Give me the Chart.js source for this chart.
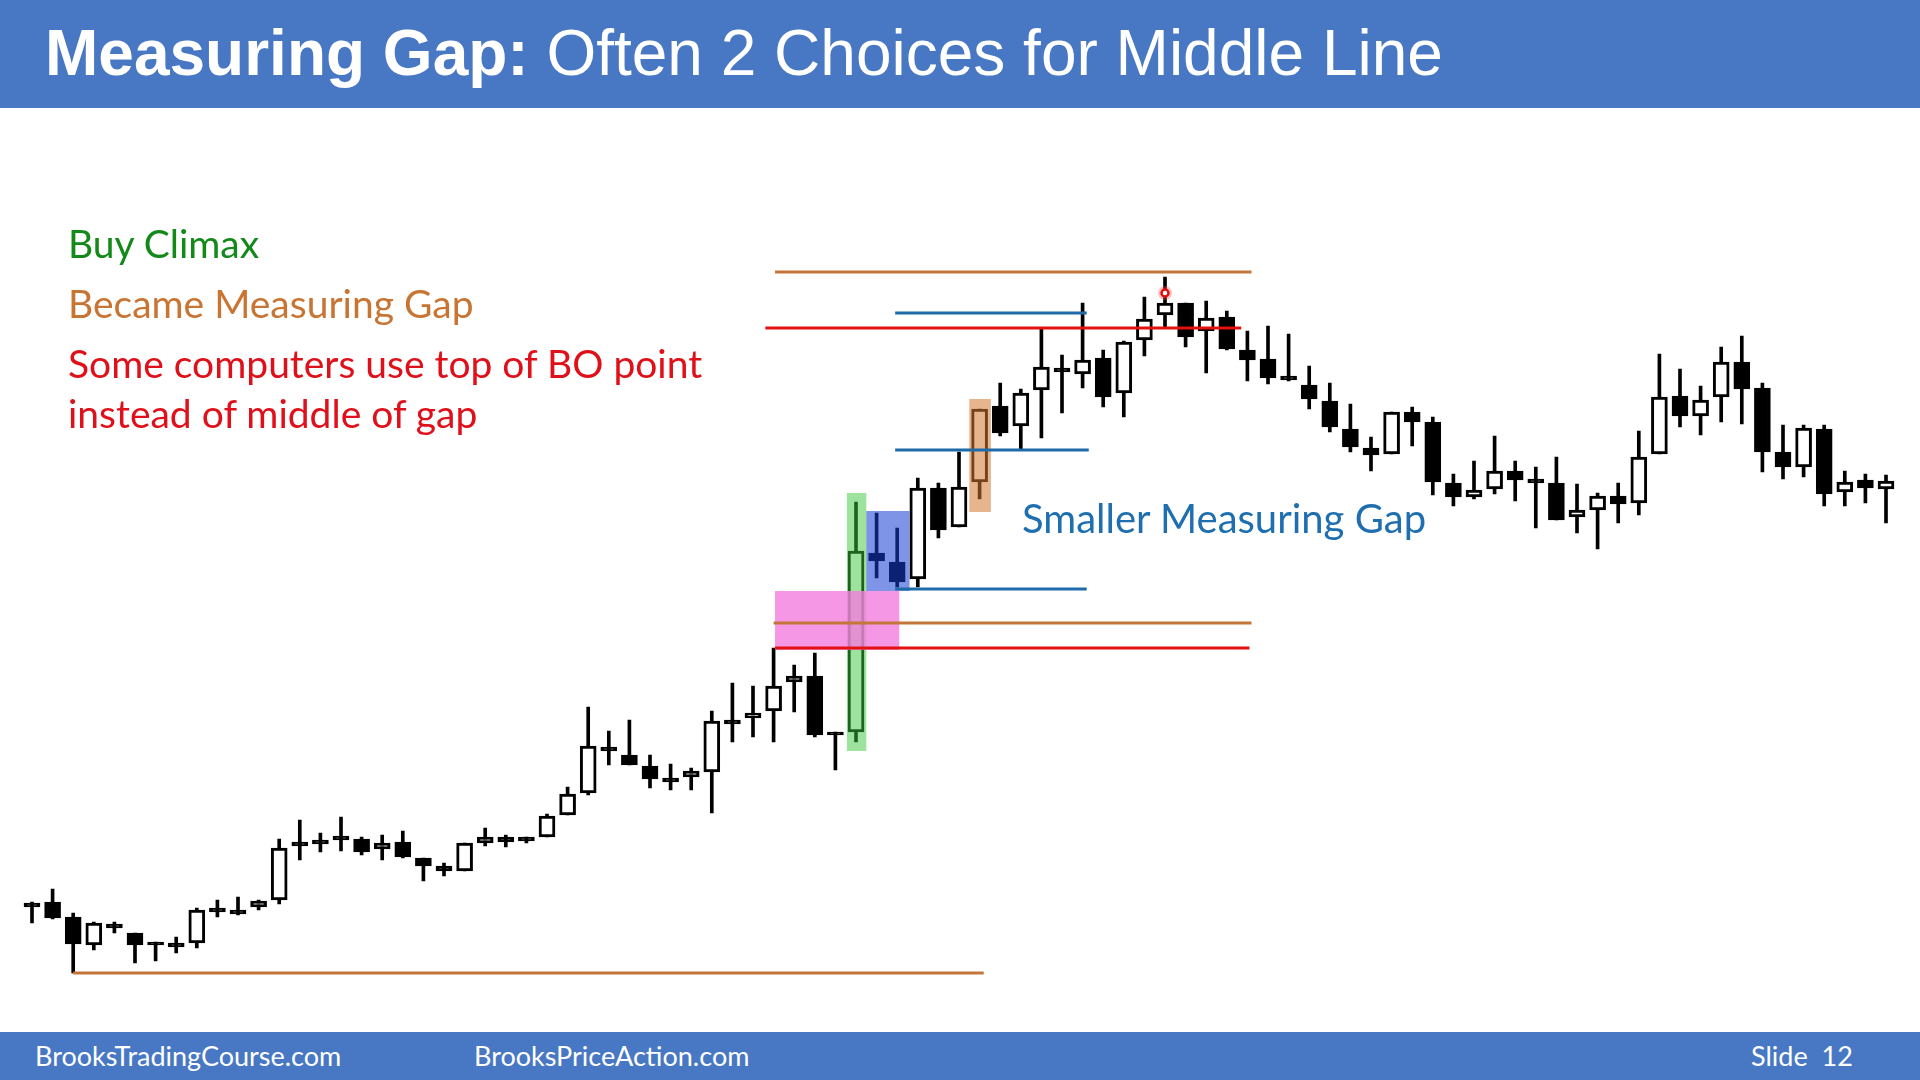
<!DOCTYPE html>
<html>
<head>
<meta charset="utf-8">
<script src="https://cdn.jsdelivr.net/npm/chart.js@4"></script>
<style>
  html, body { margin: 0; padding: 0; background: #fff; }
  #page { position: relative; width: 1920px; height: 1080px; overflow: hidden; }
  #chart { position: absolute; left: 0; top: 0; }
  .bar { position: absolute; left: 0; width: 1920px; background: #4878c4; color: #fff; z-index: 2; }
  #header { top: 0; height: 108px; }
  #header h1 { margin: 0; position: absolute; left: 45px; top: 16px; font: 64px "Liberation Sans", Arial, sans-serif; white-space: nowrap; }
  #footer { top: 1032px; height: 48px; font: 27px Lato, sans-serif; }
  #footer span { position: absolute; top: 7px; white-space: nowrap; }
  .note { position: absolute; font-family: Lato, sans-serif; white-space: nowrap; z-index: 1; font-size: 39px; }
</style>
</head>
<body>
<div id="page">
  <canvas id="chart" width="1920" height="1080"></canvas>
  <div id="header" class="bar"><h1><b>Measuring Gap:</b> Often 2 Choices for Middle Line</h1></div>
  <div class="note" style="left:68px; top:220px; color:#13891a;">Buy Climax</div>
  <div class="note" style="left:68px; top:280px; color:#c87533;">Became Measuring Gap</div>
  <div class="note" style="left:68px; top:340px; color:#e0101a;">Some computers use top of BO point</div>
  <div class="note" style="left:68px; top:390px; color:#e0101a;">instead of middle of gap</div>
  <div class="note" style="left:1022px; top:494px; font-size:40px; color:#1f6fb0;">Smaller Measuring Gap</div>
  <div id="footer" class="bar">
    <span style="left:35px;">BrooksTradingCourse.com</span>
    <span style="left:474px;">BrooksPriceAction.com</span>
    <span style="left:1751px;">Slide &nbsp;12</span>
  </div>
</div>
<script>
// prix, une bougie par barre
const opens  = [97, 98, 83, 55, 76, 67, 58, 57, 57, 92, 90, 93, 100, 158, 160, 164, 161, 151, 158, 142,
  134, 129, 157, 163, 163, 163, 185, 207, 253, 245, 234, 222, 223, 228, 280, 282, 289, 318, 324, 268,
  268, 447, 438, 421, 512, 473, 518, 594, 574, 610, 632, 626, 642, 607, 660, 685, 697, 669, 683, 650,
  641, 624, 615, 599, 571, 552, 546, 588, 578, 517, 503, 511, 529, 521, 517, 483, 490, 504, 497, 546,
  604, 584, 603, 638, 612, 548, 533, 571, 508, 520, 511];
const highs  = [98, 111, 87, 78, 78, 67, 58, 63, 92, 100, 103, 100, 161, 180, 167, 183, 163, 165, 169, 142,
  137, 157, 172, 165, 163, 186, 213, 293, 269, 280, 245, 236, 232, 289, 317, 314, 352, 335, 347, 268,
  498, 487, 472, 522, 517, 548, 591, 617, 611, 671, 645, 697, 650, 659, 703, 723, 697, 699, 689, 669,
  674, 666, 634, 617, 596, 563, 588, 593, 583, 526, 539, 564, 539, 533, 543, 516, 507, 517, 569, 646,
  631, 614, 653, 664, 617, 575, 575, 575, 529, 526, 525];
const lows   = [77, 81, 27, 50, 67, 37, 39, 47, 52, 83, 85, 90, 96, 140, 148, 149, 145, 140, 142, 119,
  124, 129, 154, 153, 157, 163, 185, 205, 235, 235, 212, 210, 210, 187, 258, 263, 258, 288, 263, 230,
  258, 422, 413, 413, 462, 473, 501, 564, 550, 562, 587, 612, 593, 583, 644, 673, 653, 627, 650, 619,
  616, 619, 591, 568, 548, 529, 546, 554, 505, 494, 501, 506, 499, 472, 480, 467, 451, 477, 485, 546,
  573, 565, 578, 576, 528, 521, 523, 494, 494, 497, 477];
const closes = [93, 82, 56, 77, 72, 55, 55, 53, 90, 88, 86, 99, 152, 154, 156, 160, 148, 157, 143, 134,
  129, 157, 163, 158, 159, 184, 206, 254, 249, 235, 221, 218, 229, 279, 276, 287, 314, 324, 265, 265,
  449, 439, 418, 512, 470, 513, 591, 567, 607, 633, 628, 640, 603, 658, 681, 697, 663, 682, 651, 640,
  622, 620, 601, 573, 553, 545, 588, 578, 518, 503, 510, 529, 520, 517, 480, 490, 504, 496, 543, 603,
  584, 600, 638, 611, 548, 533, 572, 506, 518, 512, 519];
const labels = opens.map((_, i) => String(i + 1));

// niveaux tracés : prix, première et dernière bougie (indices 1..91, fractions permises)
const levelPrices = [728, 672, 687, 550, 411, 377, 352, 27];
const levelStart  = [37.07, 36.6, 42.9, 42.9, 42.9, 37.0, 37.07, 3.0];
const levelEnd    = [60.2, 59.7, 52.2, 52.3, 52.2, 60.2, 60.1, 47.2];
const levelKinds  = ['orange', 'red', 'blue', 'blue', 'blue', 'orange', 'red', 'orange'];

// zones surlignées
const boxStart = [40.56, 41.5, 46.5, 37.07];
const boxEnd   = [41.5, 43.6, 47.55, 43.1];
const boxLow   = [249, 409, 488, 350];
const boxHigh  = [507, 489, 601, 409];
const boxKinds = ['green', 'blue', 'orange', 'pink'];

const markerBar = 56;
const markerPrice = 707;

const lineColors = { orange: '#c4763a', red: '#e31212', blue: '#1f6aa8' };
const boxColors = {
  green: 'rgba(60,200,60,0.5)',
  blue: 'rgba(20,60,210,0.55)',
  orange: 'rgba(210,120,50,0.55)',
  pink: 'rgba(244,125,222,0.8)'
};

const overlays = {
  id: 'overlays',
  afterDatasetsDraw(chart) {
    const ctx = chart.ctx;
    const x = chart.scales.x, y = chart.scales.y;
    ctx.save();
    boxKinds.forEach((k, i) => {
      const x1 = x.getPixelForValue(boxStart[i] - 1), x2 = x.getPixelForValue(boxEnd[i] - 1);
      const y1 = y.getPixelForValue(boxHigh[i]), y2 = y.getPixelForValue(boxLow[i]);
      ctx.fillStyle = boxColors[k];
      ctx.fillRect(x1, y1, x2 - x1, y2 - y1);
    });
    ctx.lineWidth = 3;
    levelKinds.forEach((k, i) => {
      const yy = y.getPixelForValue(levelPrices[i]);
      ctx.strokeStyle = lineColors[k];
      ctx.beginPath();
      ctx.moveTo(x.getPixelForValue(levelStart[i] - 1), yy);
      ctx.lineTo(x.getPixelForValue(levelEnd[i] - 1), yy);
      ctx.stroke();
    });
    // petit rond rouge sur le sommet
    const mx = x.getPixelForValue(markerBar - 1), my = y.getPixelForValue(markerPrice);
    ctx.fillStyle = 'rgba(255,80,80,0.35)';
    ctx.beginPath(); ctx.arc(mx, my, 7, 0, Math.PI * 2); ctx.fill();
    ctx.strokeStyle = '#e01010'; ctx.lineWidth = 2.5;
    ctx.fillStyle = '#fff';
    ctx.beginPath(); ctx.arc(mx, my, 3.5, 0, Math.PI * 2); ctx.fill(); ctx.stroke();
    ctx.restore();
  }
};

new Chart(document.getElementById('chart').getContext('2d'), {
  type: 'bar',
  data: {
    labels: labels,
    datasets: [
      {
        label: 'corps',
        data: opens.map((o, i) => [o, closes[i]]),
        backgroundColor: opens.map((o, i) => closes[i] > o ? '#fff' : '#000'),
        borderColor: '#000',
        borderWidth: 3,
        borderSkipped: false,
        barThickness: 16,
        grouped: false,
        order: 0
      },
      {
        label: 'mèches',
        data: lows.map((l, i) => [l, highs[i]]),
        backgroundColor: '#000',
        borderWidth: 0,
        barThickness: 3,
        grouped: false,
        order: 1
      }
    ]
  },
  options: {
    responsive: false,
    animation: false,
    devicePixelRatio: 1,
    layout: { padding: { left: 21.7, right: 23.7, top: 0, bottom: 0 } },
    plugins: { legend: { display: false }, tooltip: { enabled: false } },
    scales: {
      x: { type: 'category', display: false, offset: true },
      y: { type: 'linear', display: false, min: -80, max: 1000 }
    }
  },
  plugins: [overlays]
});
</script>
</body>
</html>
